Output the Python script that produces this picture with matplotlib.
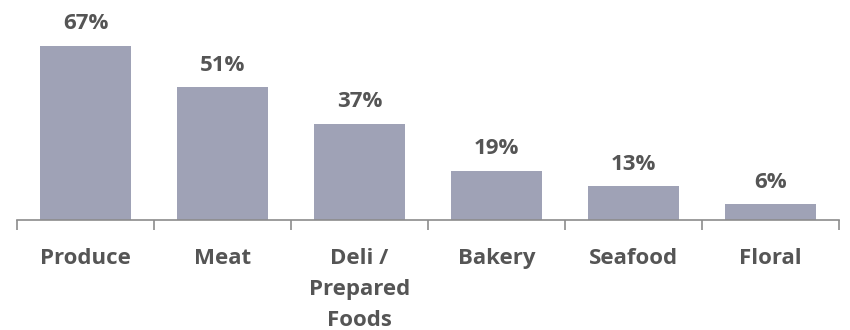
import matplotlib
matplotlib.use('Agg')
import matplotlib.pyplot as plt
import numpy as np

categories = ['Produce', 'Meat', 'Deli /\nPrepared\nFoods', 'Bakery', 'Seafood', 'Floral']
shares = [67, 51, 37, 19, 13, 6]

bar_color = '#9fa2b6'
text_color = '#555555'
axis_color = '#8c8c8c'

plt.rcParams['font.family'] = ['Open Sans', 'DejaVu Sans']

fig = plt.figure(figsize=(8.5, 3.3), dpi=100)
ax = fig.add_axes([17/850, 110/330, 822/850, 220/330])

x = np.arange(len(categories))
bars = ax.bar(x, shares, width=0.67, color=bar_color, edgecolor='none')
for xi, v in zip(x, shares):
    ax.annotate(f'{v}%', (xi, v), xytext=(0, 12), textcoords='offset points',
                ha='center', va='baseline', fontsize=16, fontweight='bold', color=text_color)

ax.set_xlim(-0.5, len(categories) - 0.5)
ax.set_ylim(0, 84.6)
ax.set_yticks([])
for side in ['top', 'right', 'left']:
    ax.spines[side].set_visible(False)
ax.spines['bottom'].set_color(axis_color)
ax.spines['bottom'].set_linewidth(1.2)

ax.set_xticks(x)
ax.set_xticklabels(categories, fontsize=16, fontweight='bold', color=text_color,
                   linespacing=1.62, va='top')
ax.tick_params(axis='x', which='major', length=0, pad=20)
ax.set_xticks(np.arange(-0.5, len(categories)), minor=True)
ax.tick_params(axis='x', which='minor', length=7, width=1.2, color=axis_color, direction='out')

fig.savefig('out.png', dpi=100, facecolor='white')
